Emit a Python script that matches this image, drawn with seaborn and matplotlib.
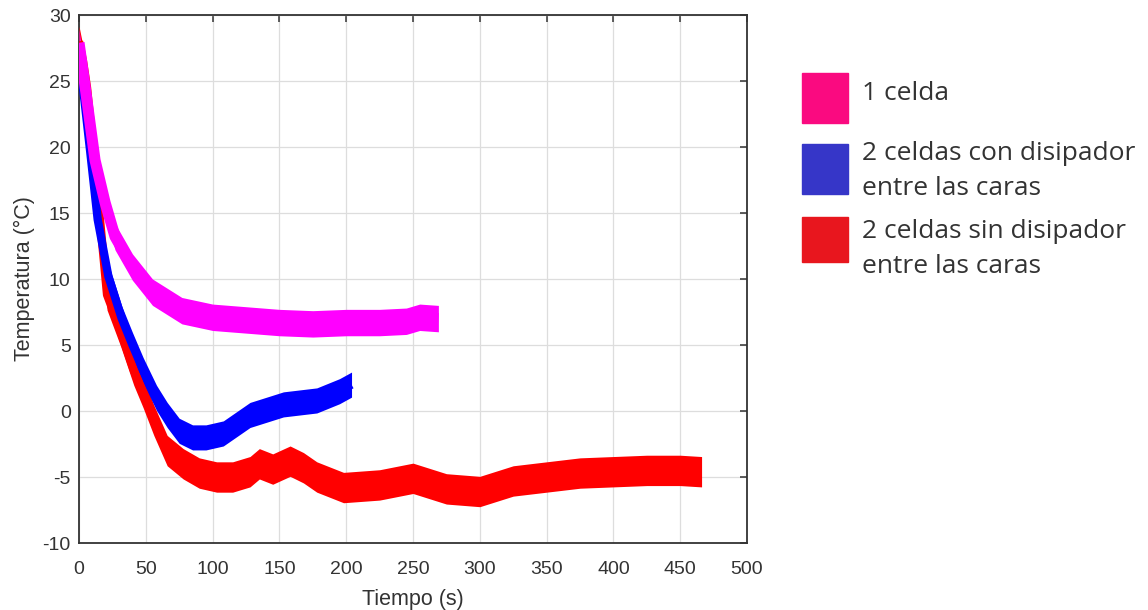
import numpy as np
import pandas as pd
import seaborn as sns
import matplotlib.pyplot as plt
from matplotlib.patches import Rectangle

# ---- data ----
t_one = [0, 4, 8, 12, 19.5, 27, 40, 55, 77, 100, 125, 150, 175, 200, 225, 245, 255, 269]
y_one = [27.9, 25.0, 22.0, 19.0, 15.8, 13.2, 10.9, 9.0, 7.6, 7.1, 6.9, 6.7, 6.6, 6.7, 6.7, 6.8, 7.1, 7.0]

t_con = [0, 3, 8, 14, 22, 32, 40, 48, 58, 66, 75, 85, 95, 108, 128, 153, 178, 195, 204]
y_con = [25.8, 24.5, 20.0, 14.5, 10.2, 7.0, 5.0, 3.1, 1.0, -0.3, -1.5, -2.0, -2.0, -1.7, -0.3, 0.5, 0.8, 1.5, 2.0]

t_sin = [0, 3, 6, 12, 21, 31, 41, 48, 56, 66, 78, 90, 103, 115, 128, 135, 145, 158, 168, 178,
         198, 225, 250, 275, 300, 325, 350, 375, 400, 425, 450, 466]
y_sin = [28.0, 26.5, 24.5, 18.5, 8.8, 6.1, 3.1, 1.4, -0.7, -3.0, -4.0, -4.7, -5.0, -5.0, -4.6, -4.0, -4.4, -3.8, -4.3, -5.0,
         -5.8, -5.6, -5.1, -5.9, -6.1, -5.3, -5.0, -4.7, -4.6, -4.5, -4.5, -4.6]

# half thickness of the noisy band (°C)
band_one = 1.0
band_con = 0.95
band_sin = 1.15

labels = ["1 celda", "2 celdas con disipador\nentre las caras", "2 celdas sin disipador\nentre las caras"]
x_ticks = [0, 50, 100, 150, 200, 250, 300, 350, 400, 450, 500]
y_ticks = [-10, -5, 0, 5, 10, 15, 20, 25, 30]

line_colors = ["#FF00FF", "#0000FF", "#FF0000"]
legend_colors = ["#FA0A80", "#3636C8", "#E8161E"]

sns.set_theme(style="white")
plt.rcParams['font.family'] = ['Liberation Sans', 'DejaVu Sans']

fig = plt.figure(figsize=(11.48, 6.10), dpi=100)
W, H = 1148, 610
ax = fig.add_axes([79 / W, 1 - 543 / H, (747 - 79) / W, (543 - 15) / H])

series = [(t_one, y_one, band_one), (t_con, y_con, band_con), (t_sin, y_sin, band_sin)]
widths = [8, 6, 6]
for idx in [2, 1, 0]:
    t, y, b = series[idx]
    t = np.asarray(t, float)
    y = np.asarray(y, float)
    ax.fill_between(t, y - b, y + b, color=line_colors[idx], linewidth=0, zorder=3)
    df = pd.DataFrame({"t": t, "y": y})
    sns.lineplot(data=df, x="t", y="y", ax=ax, color=line_colors[idx], linewidth=widths[idx],
                 zorder=4, legend=False, solid_capstyle="butt", solid_joinstyle="round")

ax.set_xlim(0, 500)
ax.set_ylim(-10, 30)
ax.set_xticks(x_ticks)
ax.set_yticks(y_ticks)
ax.set_xticklabels([str(v) for v in x_ticks])
ax.set_yticklabels([str(v) for v in y_ticks])
ax.grid(True, color="#DDDDDD", linewidth=0.9)
ax.set_axisbelow(True)
for s in ax.spines.values():
    s.set_color("#333333")
    s.set_linewidth(1.3)
ax.tick_params(axis="both", direction="in", length=5, width=1.1, color="#333333",
               labelsize=14, labelcolor="#333333", top=True, right=True)
ax.tick_params(axis="x", pad=13)
ax.tick_params(axis="y", pad=6)
ax.set_xlabel("Tiempo (s)", fontsize=15.5, color="#333333", labelpad=8)
ax.set_ylabel("Temperatura (°C)", fontsize=15.5, color="#333333", labelpad=5)

# legend outside the axes, as in the reference
sq = [(802, 73, 848, 123), (802, 144, 848, 194), (802, 217, 848, 262)]
txt_y = [93, 171, 249]
for (x0, y0, x1, y1), c, lab, ty in zip(sq, legend_colors, labels, txt_y):
    fig.patches.append(Rectangle((x0 / W, 1 - y1 / H), (x1 - x0) / W, (y1 - y0) / H,
                                 transform=fig.transFigure, color=c, zorder=5))
    fig.text(862 / W, 1 - ty / H, lab, fontsize=19, color="#333333", va="center", ha="left",
             family=["Open Sans", "DejaVu Sans"], linespacing=1.5)

fig.savefig("out.png", dpi=100, facecolor="white")
